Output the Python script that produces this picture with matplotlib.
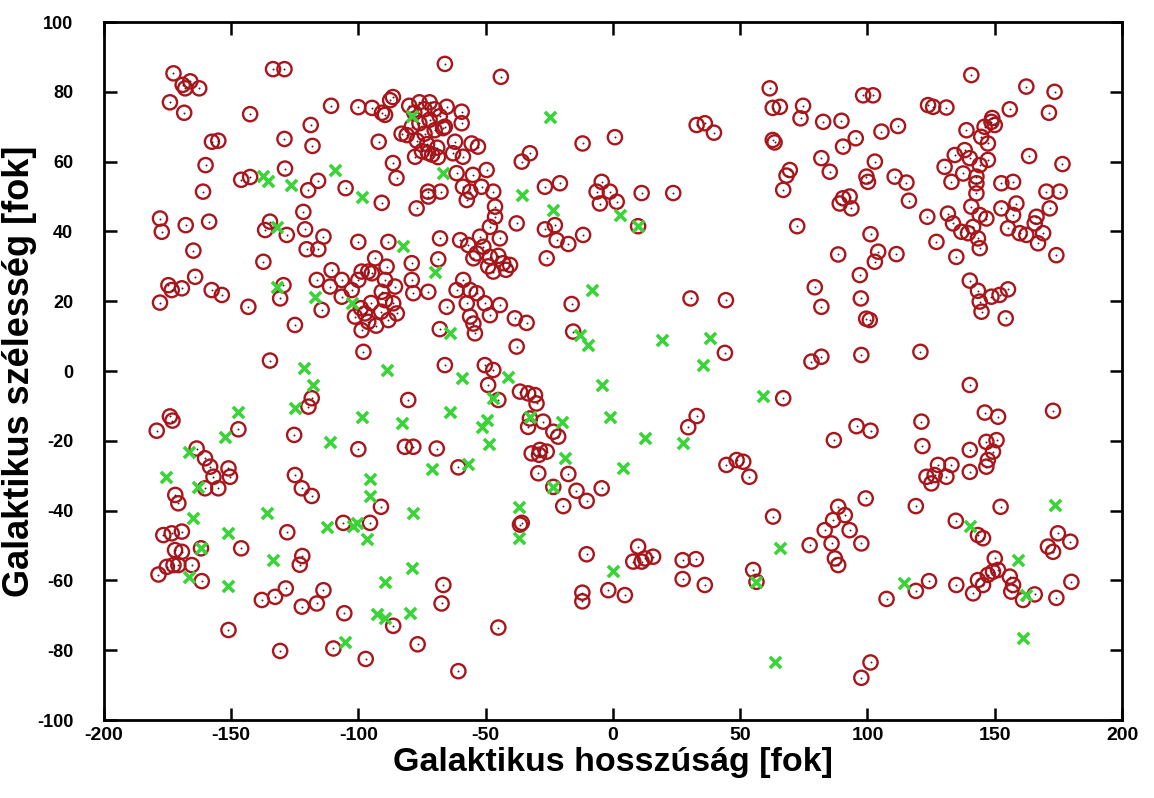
import matplotlib
matplotlib.use("Agg")
import matplotlib.pyplot as plt

# galactic coordinates (longitude, latitude) in degrees
red_l = [
    -172.6, -169, -166, -168, -162.5, -174, -168.4, -133.5, -129, -142.5, -110.7, -118.7, -129, -118,
    -157.5, -155, -160, -146, -142.5, -128.8, -115.8, -119.7, -105, -161, -66, -100, -94.6, -90.7,
    -89.5, -86.4, -87.5, -80, -78, -76, -74, -72, -70, -68, -72, -76, -79, -74, -70, -66, -77, -73,
    -69, -75, -71, -92, -83, -81, -77.7, -86.4, -72.6, -68.7, -85, -72.6, -67.7,
    -44, -11.9, 0.8, 32.9, 36.1, 39.7, 61.6, 62.8, 65.6, 62.8, 63.5, -65.3, -59.4, -59.4, -66.7, -62,
    -55.5, -53, -62.8, -58.9, -49.6, -61.4, -55, -51.6, -58.9, -56, -47, -32.6, -35.8, -26.7, -20.8,
    -4.4, -6.4, -1.2, 11.3, 23.7, 68.2, 66.9,
    140.8, 162.4, 173.5, 98.3, 102.2, 123.8, 125.8, 131, 155.9, 171.3, 74.7, 73.7, 82.6, 89.8, 146,
    148.7, 150, 149, 138.9, 144.7, 147.3, 112, 105.5, 95.4, 90.4, 81.9, 85.2, 102.9, 99.6, 100.2,
    110.7, 115.3, 69.5, 130.3, 134.3, 138.2, 140.2, 144.1, 147.3, 137.6, 142.8, 142.8, 133,
    152.6, 157.2, 163.5, 176.6, 170.3, 175.5,
    -90.8, -77.1, -72.5, -177.9, -177.2, -167.8, -158.6, -164.8, -136.6, -134.7, -128.1, -121.6,
    -120.9, -113.7, -120.3, -115.7, -137.3, -100, -88.2, -79, -67.9, -68.6, -93.4, -88.9, -96.1,
    -89.5, -110.5, -106.5, -100, -98.7, -94.7, -116.3, -111.1, -106.5, -102.6, -85.6, -79, -78.4,
    -72.5, -90.8, -89.5, -86.3, -101.3, -97.4, -96.1, -98.7, -88.2, -84.9, -99, -93, -91, -95, -98,
    -68, -129.4, -130.7, -114.4, -124.9, -143.2, -157.6, -153.6, -174.6, -173.3, -169.3, -164.1,
    -177.9, -134.7,
    -5.1, 1.5, 9.9, -37.8, -26.7, -22.8, -22.1, -17.5, -11.7, -26, -60, -56.8, -52.2, -44.4, -48.3,
    -46.3, -46.3, -57.4, -53.5, -48.3, -43.1, -40.4, -47, -54.8, -50.9, -45, -42, -49, -58.8, -61.4,
    -56.1, -53.5, -57.4, -50.3, -44.4, -48.3, -56.1, -54.8, -54.2, -38.5, -33.9, -65.3, -37.8, -66,
    -50.3, -47, -16.2, -15.6, 30.5, 44.4, 44,
    90.4, 93, 93.7, 89.1, 116.3, 123.5, 131.6, 133.6, 136.9, 139.5, 141.5, 144.1, 140.8, 142.8,
    146.7, 143.4, 144.1, 152.6, 158.5, 157.2, 155.2, 159.8, 162.4, 165.7, 166.4, 169, 167, 171.6,
    174.2, 127.1, 134.9, 72.4, 101.2, 88.5, 104.2, 102.9, 111.4, 97, 79.3, 81.9, 97.4, 100.9, 99.5,
    140.2, 143.4, 144.1, 148.7, 151.9, 155.2, 144.8, 154.3, 78, 81.9, 97.6, 120.8,
    -118.3, -119.6, -80.4, -174, -173, -179.2, -147.1, -125.2, -100, -81.7, -78.4, -69.2, -163.5,
    -160.2, -158.2, -156.9, -155, -160.2, -151, -150.4, -171.9, -170.7, -176.6, -173.3, -169.3, -172,
    -169.3, -161.8, -127.9, -146, -124.9, -122.2, -118.3, -91.1, -105.9, -95.4, -122, -123,
    -49, -45, -36.5, -33.3, -30.6, -30, -60.7, -32.6, -33.3, -27.4, -23.4, -21.5, -31.9, -28.7, -26,
    -29, -29.3, -17.5, -23.4, -14.3, -10.3, -4.4, -19.5, 29.6, 32.9, 66.9, 44.6, 48.6, 51.2, 53.6,
    62.9, -35.8, -36.5,
    140.2, 172.9, 146.1, 151.3, 95.7, 101.2, 86.8, 121.2, 121.6, 146.7, 150.7, 149.3, 147.3, 146.7,
    140.2, 140.2, 127.7, 133, 131, 123.2, 125.1, 126.4, 119, 152.3, 134.7, 143.4, 145.4, 174.8, 179.7,
    170.9, 172.9, 99.3, 88.5, 91.1, 86.5, 83.2, 93, 85.9, 77.3, 97.6,
    -178.5, -175.2, -172.6, -170.7, -165.4, -161.5, -151, -137.9, -132.7, -128.5, -113.7, -122.2,
    -116.3, -105.5, -86.3, -130.7, -109.8, -97.1, -76.7, -66.6, -67.3,
    -10.3, 9.9, 8, 11.3, 15.8, 12.6, 27.4, 32.6, 27.4, 36.1, -12, -12, -1.8, 4.7, -45, -60.7, 55.1, 56.4,
    87.2, 88.5, 107.5, 119, 124.2, 134.9, 141.5, 143.4, 145.4, 147.3, 150, 149.3, 151.3, 155.9, 157.2,
    156.5, 161.1, 165.7, 174.2, 180.1, 101.2, 97.6,
]
red_b = [
    85.3, 82, 83, 81, 81, 77, 74, 86.5, 86.5, 73.6, 76, 70.5, 66.5, 64.5,
    65.7, 66, 59, 54.8, 55.6, 58, 54.5, 51.8, 52.4, 51.4, 88, 75.6, 75.4, 74,
    73.4, 78.5, 77.6, 76, 74, 77, 75, 77, 75, 73, 72, 71, 70, 68, 69, 70, 66, 65,
    64, 63, 62, 65.7, 68, 67.6, 61.4, 59.6, 62.5, 61.3, 55.3, 51.4, 51.4,
    84.3, 65.2, 67, 70.5, 71, 68.3, 81, 75.4, 75.7, 66.2, 65.5, 75.7, 74.3, 71, 69.6, 65.7,
    65.2, 64.3, 62.4, 61.4, 57.6, 56.7, 56.2, 52.8, 52.8, 51.4, 51.4, 62.4, 60, 52.8, 53.8,
    54.2, 51.4, 51.4, 51, 51, 56, 51.9,
    84.8, 81.5, 80, 79, 79, 76.2, 75.7, 75.5, 75, 74, 76, 72.4, 71.4, 71.7, 70,
    71.4, 70.5, 72.5, 69, 67.1, 65.2, 70.2, 68.6, 66.7, 64.3, 61, 57.1, 60, 55.7, 54.2,
    55.7, 54, 57.6, 58.5, 61.9, 63.3, 61, 59, 60.5, 56.6, 55.7, 53.8, 54.2,
    53.8, 54.2, 61.6, 59.3, 51.4, 51.4,
    48.2, 46.6, 50, 43.7, 39.9, 41.8, 42.8, 34.5, 40.4, 42.8, 39, 45.6,
    40.6, 38.5, 34.9, 34.9, 31.3, 37, 37, 30.9, 38, 32, 32.3, 29.9, 28.5,
    26.1, 28.9, 26.1, 26.1, 28.5, 28, 26.1, 24.2, 21.3, 23.2, 24.2, 26.1, 22.3,
    22.7, 22.7, 20.3, 19.4, 15.6, 16.5, 14.1, 11.7, 14.6, 16.5, 18, 13, 17, 19.5, 5.5,
    12, 24.6, 20.8, 17.5, 13.2, 18.4, 23.2, 21.8, 24.6, 23.2, 23.7, 27,
    19.6, 3,
    48, 48.5, 41.5, 42.3, 40.6, 41.8, 37.5, 36.4, 39, 32.3, 37.5, 36.1, 38.5, 38, 41.3,
    44.2, 47.1, 49, 33.7, 32.7, 30.9, 30.4, 28.5, 32.3, 35.6, 33, 29, 30, 26.1, 23.2,
    23.2, 22.3, 19.4, 19.4, 18.9, 16, 15.6, 13.6, 10.8, 15.1, 13.8, 18.4, 7, 1.7,
    1.7, 0.3, 19.2, 11.3, 20.8, 20.3, 5.2,
    49.5, 50, 46.6, 48, 48.8, 44.2, 45.1, 42.3, 39.9, 39.5, 41.3, 44.7, 47.1, 50.9,
    43.7, 38, 35.2, 46.6, 48, 44.7, 40.9, 39.5, 39, 42.3, 44.2, 39.5, 36.6, 46.6,
    33.2, 37, 32.7, 41.5, 39.2, 33.4, 34.2, 31.3, 33.5, 27.5, 24, 18.4, 20.8, 14.6, 15,
    25.9, 23, 19.9, 21.3, 21.8, 23.4, 17, 15.1, 2.7, 4.1, 4.6, 5.5,
    -7.8, -10.2, -8.3, -13, -14.2, -17.1, -16.7, -18.3, -22.4, -21.7, -21.7, -22.2, -22.2,
    -25, -27.4, -30.3, -33.6, -33.6, -27.9, -30.3, -35.5, -37.9, -47, -46.5, -46, -51.3,
    -51.8, -50.8, -46.2, -50.8, -29.8, -33.6, -35.8, -38.9, -43.5, -43.5, -53, -55.5,
    -4, -8.3, -5.9, -6.4, -6.9, -9.3, -27.6, -13.6, -16, -14.5, -17.4, -18.8, -23.6, -22.6, -23.1,
    -24, -29.3, -29.5, -33.2, -34.3, -37.2, -33.6, -38.7, -16.1, -12.9, -7.8, -26.9, -25.5, -26, -30.3,
    -41.7, -43.5, -44,
    -4, -11.4, -11.9, -13.1, -15.8, -17.1, -19.8, -14.5, -21.5, -20.3, -19.8, -23.1, -25.5, -27.4,
    -22.6, -28.9, -26.9, -26.9, -30.3, -30.3, -32.2, -29.8, -38.7, -38.9, -42.9, -47, -47.9, -46.5, -48.9,
    -50.3, -51.8, -36.5, -38.9, -41.3, -42.7, -45.6, -45.6, -49.4, -49.9, -49.4,
    -58.3, -56.1, -55.6, -55.6, -55.6, -60.2, -74.2, -65.6, -64.7, -62.3, -62.8, -67.5,
    -66.6, -69.4, -73, -80.2, -79.5, -82.5, -78.3, -61.3, -66.6,
    -52.5, -50.3, -54.6, -54.6, -53.2, -53.7, -54.2, -53.9, -59.6, -61.3, -63.5, -66, -62.8, -64.2, -73.5, -86, -57, -60.4,
    -53.7, -55.6, -65.3, -63, -60.2, -61.3, -63.7, -59.9, -61.3, -58.4, -53.7, -57.5, -57, -58.9, -61.3,
    -63.2, -65.6, -64, -65, -60.4, -83.5, -87.9,
]

green_l = [
    -137.4, -135.4, -126.4, -109, -79, -66.6, -24.7, -35.8, -98.7, -132, -82.3, -69.9, -132, -117,
    -102.6, -64, -121.2, -88.9, -23.4, 2.7, 9.9, -8.4, -13, -9.7, 19.1, 38.1, 35.5, -117.7, -124.9,
    -98.7, -83, -147.1, -152.3, -111.1, -70.9, -166.7, -162.8, -175.6, -164.8, -161.8, -151.3, -136,
    -95.4, -95.4, -78.4, -100.6, -102, -96.7, -112.4, -59.4, -47, -41.1, -4.4, -64, -49.6, -51.6,
    -48.6, -56.8, -32.6, -19.8, -1.2, -18.8, -23.4, 4, 12.6, 27.4, 58.8, 65.6, -36.8, -36.8, 173.5,
    140.2, -166.7, -151.3, -133.4, -89.5, -78.8, -92.8, -89.5, -79.7, -105.2, 0.1, 56.4, 63.6, 114.3,
    159.1, 162.4, 161,
]
green_b = [
    56, 54.5, 53.3, 57.6, 73, 56.7, 72.8, 50.5, 49.8, 41.3, 35.8, 28.5, 24.2, 21.1,
    19.4, 11, 0.8, 0.3, 46.1, 44.7, 41.5, 23.2, 10.3, 7.4, 8.9, 9.4, 1.7, -4, -10.7,
    -13.1, -15, -11.7, -18.8, -20.3, -28.2, -23.1, -33.2, -30.5, -42.2, -50.8, -46.5, -40.6,
    -31, -35.8, -40.6, -43.6, -44.5, -48, -44.6, -2.1, -7.8, -1.6, -4, -11.7, -14, -16.1,
    -20.9, -26.5, -13.1, -14.5, -13.1, -25, -33.2, -27.9, -19.3, -20.5, -7.2, -50.8, -38.9, -47.9, -38.4,
    -44.4, -58.9, -61.5, -54.2, -60.4, -56.4, -69.7, -70.7, -69.4, -77.7, -57.3, -60.4, -83.5, -60.8,
    -54.2, -64.2, -76.4,
]

plt.rcParams['font.family'] = ['Liberation Sans', 'DejaVu Sans']
plt.rcParams['font.weight'] = 'bold'
plt.rcParams['axes.unicode_minus'] = False

fig = plt.figure(figsize=(11.54, 7.98), dpi=100)
ax = fig.add_axes([0.0899, 0.0977, 0.8824, 0.8747])

ax.scatter(red_l, red_b, s=105, marker='o', facecolors='none',
           edgecolors='#a8161c', linewidths=1.7, zorder=2)
ax.scatter(red_l, red_b, s=2, marker='o', color='#402020', linewidths=0, zorder=3)
ax.scatter(green_l, green_b, s=65, marker='x', color='#3ad43a', linewidths=2.6, zorder=4)

ax.set_xlim(-200, 200)
ax.set_ylim(-100, 100)
ax.set_xticks(range(-200, 201, 50))
ax.set_yticks(range(-100, 101, 20))
ax.tick_params(direction='in', length=9, width=1.8, top=True, right=True)
ax.tick_params(axis='x', pad=5, labelsize=14)
ax.tick_params(axis='y', pad=22, labelsize=13)
for lab in ax.get_xticklabels() + ax.get_yticklabels():
    lab.set_fontweight('bold')
for sp in ax.spines.values():
    sp.set_linewidth(2)

ax.set_xlabel('Galaktikus hosszúság [fok]', fontsize=24.5, fontweight='bold', labelpad=2)
ax.set_ylabel('Galaktikus szélesség [fok]', fontsize=26, fontweight='bold')
ax.yaxis.set_label_coords(-0.066, 0.5)

fig.savefig('out.png', dpi=100, facecolor='white')
